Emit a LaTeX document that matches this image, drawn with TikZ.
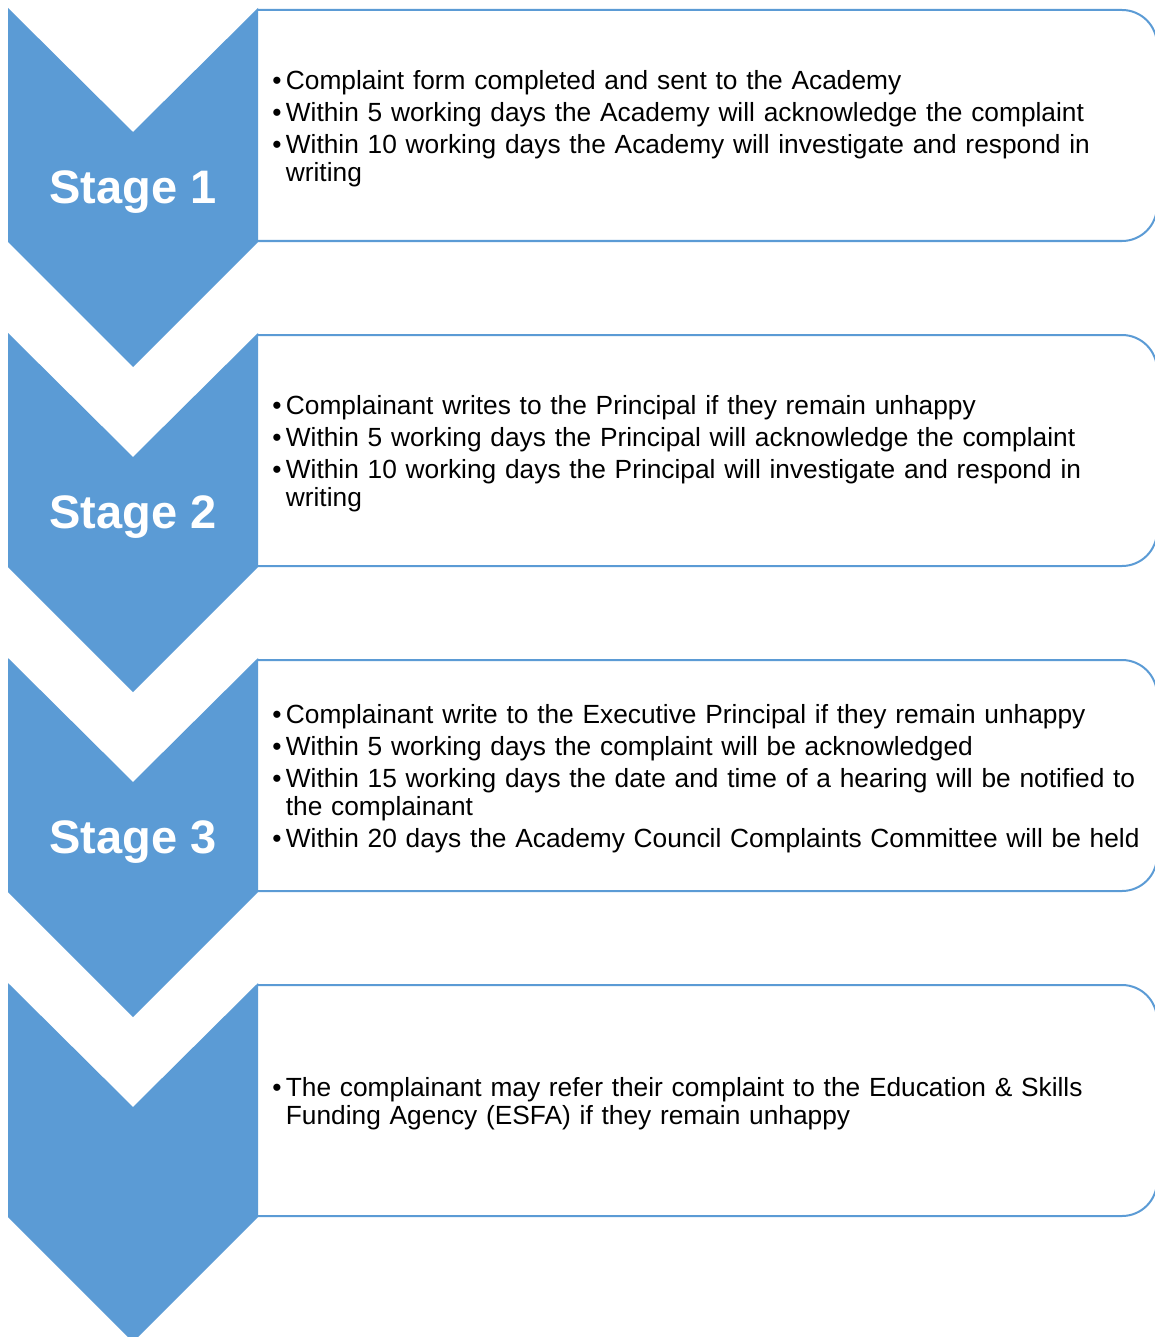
\documentclass[tikz,border=0pt]{standalone}
\usepackage{fontspec}
\setmainfont{Liberation Sans}
\definecolor{stageblue}{RGB}{91,155,213}
\newcommand{\bitem}[1]{\par\hangindent=6.75pt\hangafter=1\noindent\makebox[6.75pt][l]{\textbullet}#1\par}
\tikzset{
  chevron/.style={fill=stageblue},
  stagebox/.style={draw=stageblue, line width=1pt, fill=white, rounded corners=17.5pt},
  stagelabel/.style={text=white, font=\bfseries\fontsize{23.5}{28}\selectfont},
  stagetext/.style={anchor=west, inner sep=0pt, text width=440pt, align=left,
    font=\fontsize{13.15}{14}\selectfont\setlength{\parskip}{2pt}},
}
\begin{document}
\begin{tikzpicture}[x=0.5pt,y=-0.5pt]
\useasboundingbox (0,0) rectangle (1155,1337);
\clip (0,0) rectangle (1155,1337);
% boxes, then the chevrons over their left ends
\foreach \dy in {0,325,650,975}{
  \filldraw[stagebox] (258,10+\dy) -- (1157,10+\dy) -- (1157,241+\dy) -- (258,241+\dy);
  \fill[chevron] (8,8+\dy) -- (133,132+\dy) -- (258,8+\dy) -- (258,242+\dy)
    -- (133,367+\dy) -- (8,242+\dy) -- cycle;
}
% stage labels
\node[stagelabel] (stage1) at (133,192) {Stage 1};
\node[stagelabel] (stage2) at (133,517) {Stage 2};
\node[stagelabel] (stage3) at (133,842) {Stage 3};
% box texts
\node[stagetext] (text1) at (272,122) {%
  \bitem{Complaint form completed and sent to the Academy}
  \bitem{Within 5 working days the Academy will acknowledge the complaint}
  \bitem{Within 10 working days the Academy will investigate and respond in\newline writing}};
\node[stagetext] (text2) at (272,447) {%
  \bitem{Complainant writes to the Principal if they remain unhappy}
  \bitem{Within 5 working days the Principal will acknowledge the complaint}
  \bitem{Within 10 working days the Principal will investigate and respond in\newline writing}};
\node[stagetext] (text3) at (272,772) {%
  \bitem{Complainant write to the Executive Principal if they remain unhappy}
  \bitem{Within 5 working days the complaint will be acknowledged}
  \bitem{Within 15 working days the date and time of a hearing will be notified to\newline the complainant}
  \bitem{Within 20 days the Academy Council Complaints Committee will be held}};
\node[stagetext] (text4) at (272,1097) {%
  \bitem{The complainant may refer their complaint to the Education \& Skills\newline Funding Agency (ESFA) if they remain unhappy}};
\end{tikzpicture}
\end{document}
